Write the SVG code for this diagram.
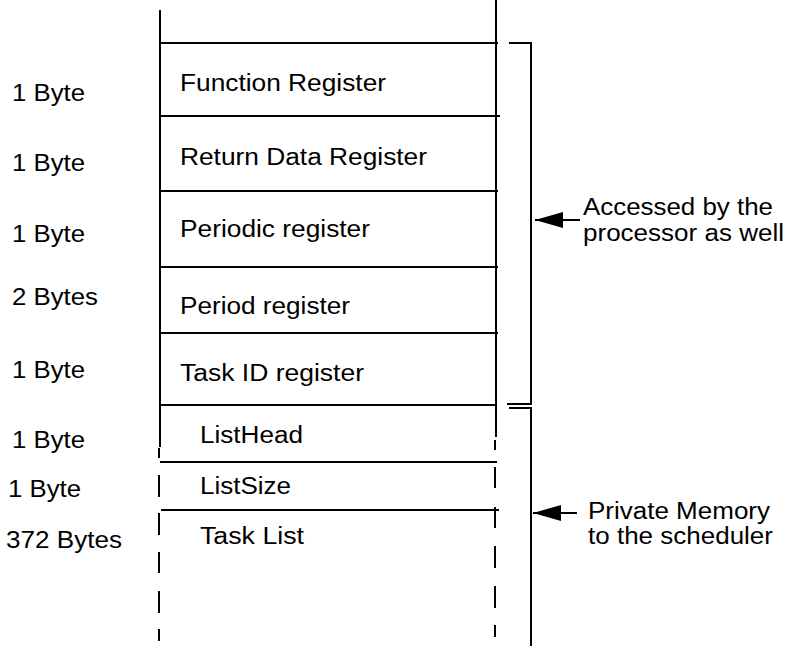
<svg xmlns="http://www.w3.org/2000/svg" width="789" height="646" viewBox="0 0 789 646">
<defs>
<style>
.t{font-family:"Liberation Sans",Arial,sans-serif;font-size:23px;fill:#000}
.ln{stroke:#000;stroke-width:2;fill:none}
</style>
<marker id="ah" viewBox="0 0 28 16" refX="28" refY="8" markerWidth="28" markerHeight="16" markerUnits="userSpaceOnUse" orient="auto">
<path d="M0,0 L28,8 L0,16 Z" fill="#000"/>
</marker>
</defs>
<rect width="789" height="646" fill="#fff"/>
<g id="stack-frame">
<path class="ln" d="M160,10 V447 M159,448 V458 M159,475 V497 M159,513 V535 M159,552 V573 M159,591 V613 M159,629 V641"/>
<path class="ln" d="M496,0 V437 M495,440 V450 M495,467 V488 M495,507 V528 M495,546 V568 M495,586 V608 M495,625 V637"/>
<path class="ln" d="M160,43 H498"/>
</g>
<g id="function-register">
<text class="t" x="12" y="101" textLength="73" lengthAdjust="spacingAndGlyphs">1 Byte</text>
<text class="t" x="180" y="91" textLength="206" lengthAdjust="spacingAndGlyphs">Function Register</text>
<path class="ln" d="M161,116 H500"/>
</g>
<g id="return-data-register">
<text class="t" x="12" y="171" textLength="73" lengthAdjust="spacingAndGlyphs">1 Byte</text>
<text class="t" x="180" y="165" textLength="247" lengthAdjust="spacingAndGlyphs">Return Data Register</text>
<path class="ln" d="M160,191 H498"/>
</g>
<g id="periodic-register">
<text class="t" x="12" y="242" textLength="73" lengthAdjust="spacingAndGlyphs">1 Byte</text>
<text class="t" x="180" y="237" textLength="190" lengthAdjust="spacingAndGlyphs">Periodic register</text>
<path class="ln" d="M160,267 H498"/>
</g>
<g id="period-register">
<text class="t" x="12" y="305" textLength="86" lengthAdjust="spacingAndGlyphs">2 Bytes</text>
<text class="t" x="180" y="314" textLength="170" lengthAdjust="spacingAndGlyphs">Period register</text>
<path class="ln" d="M160,333 H498"/>
</g>
<g id="task-id-register">
<text class="t" x="12" y="378" textLength="73" lengthAdjust="spacingAndGlyphs">1 Byte</text>
<text class="t" x="180" y="381" textLength="184" lengthAdjust="spacingAndGlyphs">Task ID register</text>
<path class="ln" d="M160,405 H497"/>
</g>
<g id="list-head">
<text class="t" x="12" y="448" textLength="73" lengthAdjust="spacingAndGlyphs">1 Byte</text>
<text class="t" x="200" y="443" textLength="103" lengthAdjust="spacingAndGlyphs">ListHead</text>
<path class="ln" d="M160,462 H497"/>
</g>
<g id="list-size">
<text class="t" x="8" y="497" textLength="73" lengthAdjust="spacingAndGlyphs">1 Byte</text>
<text class="t" x="200" y="494" textLength="91" lengthAdjust="spacingAndGlyphs">ListSize</text>
<path class="ln" d="M161,510 H499"/>
</g>
<g id="task-list">
<text class="t" x="6" y="548" textLength="116" lengthAdjust="spacingAndGlyphs">372 Bytes</text>
<text class="t" x="200" y="544" textLength="104" lengthAdjust="spacingAndGlyphs">Task List</text>
</g>
<g id="shared-bracket">
<path class="ln" d="M509,43 H531 V404 H507"/>
<text class="t" x="583" y="215" textLength="190" lengthAdjust="spacingAndGlyphs">Accessed by the</text>
<text class="t" x="583" y="241" textLength="201" lengthAdjust="spacingAndGlyphs">processor as well</text>
</g>
<g id="private-bracket">
<path class="ln" d="M509,408 H531 V646"/>
<text class="t" x="588" y="519" textLength="182" lengthAdjust="spacingAndGlyphs">Private Memory</text>
<text class="t" x="588" y="544" textLength="185" lengthAdjust="spacingAndGlyphs">to the scheduler</text>
</g>
<g id="connectors">
<path class="ln" d="M580,220 H535" marker-end="url(#ah)"/>
<path class="ln" d="M577,513 H533" marker-end="url(#ah)"/>
</g>
</svg>
